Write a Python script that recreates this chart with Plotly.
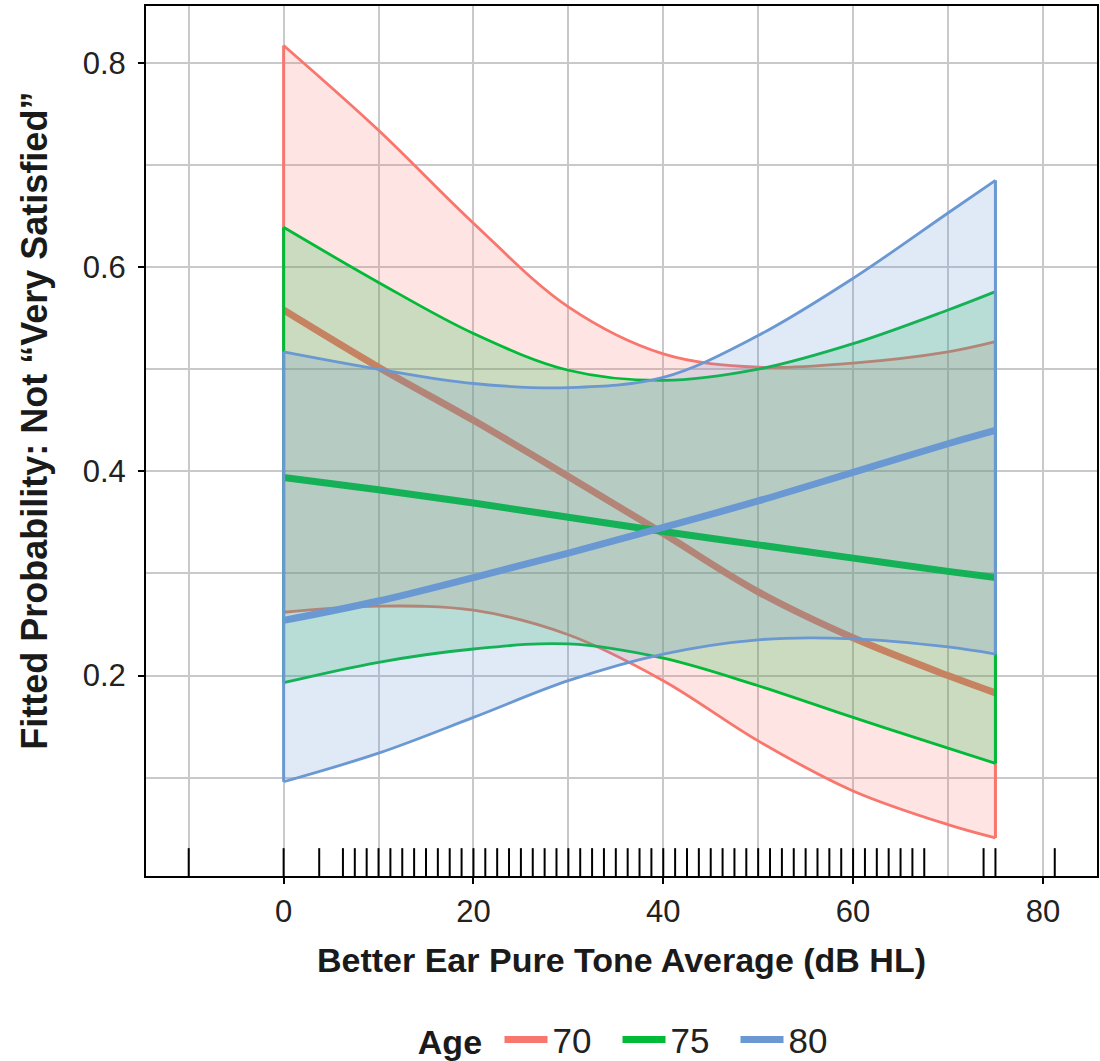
import plotly.graph_objects as go

# ---- data ----
pta = [0, 10, 20, 30, 40, 50, 60, 70, 75]
ages = ["70", "75", "80"]

fit_70 = [0.558, 0.502, 0.450, 0.395, 0.339, 0.282, 0.237, 0.200, 0.183]
upr_70 = [0.817, 0.734, 0.643, 0.561, 0.515, 0.502, 0.506, 0.517, 0.527]
lwr_70 = [0.262, 0.268, 0.264, 0.240, 0.195, 0.136, 0.087, 0.054, 0.041]

fit_75 = [0.394, 0.382, 0.369, 0.355, 0.341, 0.328, 0.315, 0.302, 0.296]
upr_75 = [0.639, 0.585, 0.535, 0.499, 0.489, 0.500, 0.525, 0.558, 0.576]
lwr_75 = [0.193, 0.213, 0.226, 0.231, 0.217, 0.190, 0.159, 0.129, 0.114]

fit_80 = [0.254, 0.273, 0.296, 0.320, 0.345, 0.371, 0.399, 0.427, 0.440]
upr_80 = [0.517, 0.500, 0.486, 0.482, 0.492, 0.533, 0.589, 0.653, 0.685]
lwr_80 = [0.096, 0.124, 0.159, 0.195, 0.221, 0.235, 0.236, 0.228, 0.221]

rug_pta = [-10, 0, 3.75, 6.25, 7.5, 8.75, 10, 11.25, 12.5, 13.75, 15, 16.25, 17.5,
           18.75, 20, 21.25, 22.5, 23.75, 25, 26.25, 27.5, 28.75, 30, 31.25, 32.5,
           33.75, 35, 36.25, 37.5, 38.75, 40, 41.25, 42.5, 43.75, 45, 46.25, 47.5,
           48.75, 50, 51.25, 52.5, 53.75, 55, 56.25, 57.5, 58.75, 60, 61.25, 62.5,
           63.75, 65, 66.25, 67.5, 73.75, 75, 81.25]

x_ticks = [0, 20, 40, 60, 80]
y_ticks = [0.2, 0.4, 0.6, 0.8]

# ---- styles ----
line_cols = {"70": "#F8766D", "75": "#00BA38", "80": "#6A98D2"}
fill_cols = {"70": "rgba(248,118,109,0.2)", "75": "rgba(0,186,56,0.2)", "80": "rgba(100,145,210,0.2)"}
series = {"70": (fit_70, upr_70, lwr_70), "75": (fit_75, upr_75, lwr_75), "80": (fit_80, upr_80, lwr_80)}

FONT = "Liberation Sans, Arial, sans-serif"
GRID = "#C9C9CC"

fig = go.Figure()
for a in ages:
    fit, upr, lwr = series[a]
    c = line_cols[a]
    fig.add_trace(go.Scatter(x=pta, y=lwr, mode="lines", line=dict(color=c, width=2.8, shape="spline"),
                             showlegend=False, legendgroup=a, hoverinfo="skip"))
    fig.add_trace(go.Scatter(x=pta, y=upr, mode="lines", line=dict(color=c, width=2.8, shape="spline"),
                             fill="tonexty", fillcolor=fill_cols[a],
                             showlegend=False, legendgroup=a, hoverinfo="skip"))
    fig.add_trace(go.Scatter(x=[pta[0], pta[0], None, pta[-1], pta[-1]],
                             y=[lwr[0], upr[0], None, lwr[-1], upr[-1]],
                             mode="lines", line=dict(color=c, width=3),
                             showlegend=False, legendgroup=a, hoverinfo="skip"))
    fig.add_trace(go.Scatter(x=pta, y=fit, mode="lines", line=dict(color=c, width=7, shape="spline"),
                             name=a, legendgroup=a))

# rug along the bottom
rx, ry = [], []
for v in rug_pta:
    rx += [v, v, None]
    ry += [0, 0.032, None]
fig.add_trace(go.Scatter(x=rx, y=ry, yaxis="y2", mode="lines",
                         line=dict(color="black", width=2), showlegend=False, hoverinfo="skip"))

fig.update_layout(
    width=1100, height=1061,
    margin=dict(l=146, r=3, t=6, b=185, autoexpand=False),
    paper_bgcolor="white", plot_bgcolor="white",
    font=dict(family=FONT, size=32, color="#222222"),
    xaxis=dict(range=[-14.5, 85.7], tickvals=x_ticks, ticks="outside", ticklen=6, tickwidth=2,
               tickcolor="black", showline=True, linecolor="black", linewidth=2, mirror=True,
               showgrid=True, gridcolor=GRID, gridwidth=2, zeroline=False,
               minor=dict(dtick=10, tick0=0, showgrid=True, gridcolor=GRID, gridwidth=2),
               tickfont=dict(size=31, color="#222222"), ticklabelstandoff=1,
               title=dict(text="<b>Better Ear Pure Tone Average (dB HL)</b>", font=dict(size=34, color="#1a1a1a"),
                          standoff=20)),
    yaxis=dict(range=[0.0037, 0.8557], tickvals=y_ticks, ticks="outside", ticklen=6, tickwidth=2,
               tickcolor="black", showline=True, linecolor="black", linewidth=2, mirror=True,
               showgrid=True, gridcolor=GRID, gridwidth=2, zeroline=False,
               minor=dict(dtick=0.1, tick0=0, showgrid=True, gridcolor=GRID, gridwidth=2),
               tickfont=dict(size=31, color="#222222"), ticklabelstandoff=6),
    yaxis2=dict(range=[0, 1], overlaying="y", visible=False, showgrid=False),
    legend=dict(orientation="h", x=0.514, xanchor="center", yref="container", y=0.02, yanchor="middle",
                title=dict(text="<b>Age</b> ", font=dict(size=34, color="#1a1a1a")),
                font=dict(size=35, color="#222222"), itemwidth=43, entrywidth=60),
    annotations=[dict(text="<b>Fitted Probability: Not “Very Satisfied”</b>", textangle=-90,
                      xref="paper", yref="paper", x=-0.117, y=0.523, xanchor="center", yanchor="middle",
                      showarrow=False, font=dict(size=36, color="#1a1a1a"))],
)

fig.write_html("out.html", config={"displayModeBar": False},
               post_script="document.body.style.margin='0';")
